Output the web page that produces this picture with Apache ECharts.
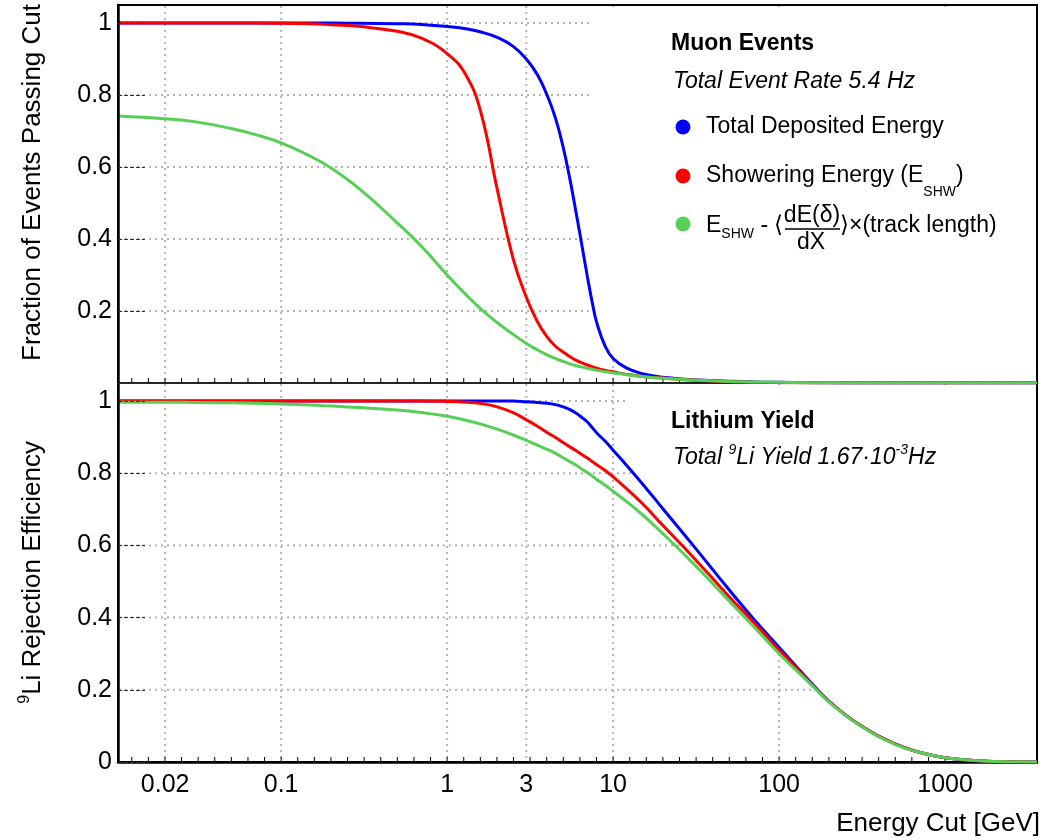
<!DOCTYPE html>
<html>
<head>
<meta charset="utf-8">
<script src="https://cdn.jsdelivr.net/npm/echarts@6/dist/echarts.min.js"></script>
<style>
html, body { margin: 0; padding: 0; background: #fff; }
#canvas_main { width: 1043px; height: 840px; }
</style>
</head>
<body>
<div id="canvas_main"></div>
<script>
// energy cut values [GeV], shared by all curves
var energies = [0.0104, 0.02, 0.03, 0.05, 0.07, 0.1, 0.15, 0.2, 0.3, 0.5, 0.7, 1, 1.3, 1.6, 2, 2.5, 3, 3.5, 4, 4.5,
	5, 5.5, 6, 6.5, 7, 7.5, 8, 9, 10, 12, 15, 20, 30, 50, 70, 100, 150, 200, 300, 500, 700, 1000, 1500, 2000, 3580];

// top pad: fraction of muon events passing the cut
var muonTotal = [1, 1, 1, 1, 1, 1, 1, 1, 0.999, 0.998, 0.996, 0.99, 0.984, 0.975, 0.96, 0.935, 0.9, 0.856, 0.8, 0.735,
	0.655, 0.565, 0.47, 0.38, 0.295, 0.222, 0.165, 0.1, 0.068, 0.042, 0.026, 0.016, 0.009, 0.005, 0.003, 0.002, 0.001, 0.0005, 0, 0, 0, 0, 0, 0, 0];
var muonShower = [1, 1, 1, 1, 1, 0.999, 0.998, 0.995, 0.99, 0.977, 0.958, 0.915, 0.855, 0.75, 0.54, 0.345, 0.238, 0.17, 0.128, 0.102,
	0.086, 0.073, 0.063, 0.056, 0.05, 0.045, 0.041, 0.035, 0.031, 0.024, 0.018, 0.014, 0.008, 0.004, 0.002, 0.001, 0.0005, 0, 0, 0, 0, 0, 0, 0, 0];
var muonCorr = [0.742, 0.734, 0.726, 0.707, 0.69, 0.667, 0.63, 0.597, 0.537, 0.445, 0.38, 0.3, 0.245, 0.205, 0.168, 0.135, 0.11, 0.092, 0.078, 0.068,
	0.06, 0.053, 0.048, 0.044, 0.041, 0.038, 0.035, 0.031, 0.028, 0.023, 0.018, 0.013, 0.008, 0.004, 0.003, 0.002, 0.001, 0.0005, 0, 0, 0, 0, 0, 0, 0];

// bottom pad: 9Li rejection efficiency
var liTotal = [1, 1, 1, 1, 1, 1, 1, 1, 1, 1, 1, 1, 1, 1, 1, 1, 0.998, 0.996, 0.994, 0.99,
	0.984, 0.976, 0.966, 0.954, 0.942, 0.926, 0.911, 0.888, 0.864, 0.823, 0.771, 0.701, 0.603, 0.477, 0.397, 0.318, 0.228, 0.168, 0.105, 0.05, 0.027, 0.012, 0.004, 0.0015, 0];
var liShower = [1, 1, 1, 1, 1, 1, 1, 1, 1, 1, 1, 0.999, 0.997, 0.993, 0.984, 0.968, 0.948, 0.93, 0.913, 0.899,
	0.885, 0.873, 0.862, 0.851, 0.842, 0.832, 0.823, 0.807, 0.79, 0.758, 0.716, 0.655, 0.57, 0.458, 0.388, 0.31, 0.226, 0.168, 0.105, 0.05, 0.027, 0.012, 0.004, 0.0015, 0];
var liCorr = [0.997, 0.997, 0.996, 0.995, 0.994, 0.992, 0.989, 0.986, 0.982, 0.975, 0.968, 0.958, 0.947, 0.936, 0.922, 0.906, 0.891, 0.878, 0.866, 0.855,
	0.843, 0.832, 0.822, 0.811, 0.802, 0.792, 0.782, 0.766, 0.75, 0.722, 0.685, 0.632, 0.553, 0.446, 0.376, 0.3, 0.222, 0.166, 0.104, 0.049, 0.027, 0.012, 0.004, 0.0015, 0];

var xTickValues = [0.02, 0.1, 1, 3, 10, 100, 1000];
var xTickLabels = ['0.02', '0.1', '1', '3', '10', '100', '1000'];
var yGridValues = [0.2, 0.4, 0.6, 0.8, 1];
var xRange = [0.0104, 3580];
var yMax = 1.05;

var FONT = '"Liberation Sans", Arial, Helvetica, sans-serif';
var colBlue = '#0000ff', colRed = '#ff0000', colGreen = '#55d055';

function pairs(vals) {
	return energies.map(function (e, i) { return [e, vals[i]]; });
}

// dotted grid, minor ticks and (optionally) x labels for one pad
function decorItem(withLabels) {
	return function (params, api) {
		var cs = params.coordSys;
		var left = cs.x, right = cs.x + cs.width, top = cs.y, bottom = cs.y + cs.height;
		var dot = { stroke: '#b4b4b4', lineWidth: 2, lineDash: [2, 4] };
		var kids = [];
		xTickValues.forEach(function (v, i) {
			var px = api.coord([v, 0])[0];
			kids.push({ type: 'line', shape: { x1: px, y1: top + 1, x2: px, y2: bottom - 1 }, style: dot });
			if (withLabels) {
				kids.push({ type: 'text', x: px, y: bottom + 23, style: {
					text: xTickLabels[i], fill: '#000', fontSize: 25, fontFamily: FONT, align: 'center', verticalAlign: 'middle' } });
			}
		});
		yGridValues.forEach(function (v) {
			var py = api.coord([xRange[0], v])[1];
			kids.push({ type: 'line', shape: { x1: left + 1, y1: py, x2: right - 1, y2: py }, style: dot });
		});
		var k0 = Math.ceil(Math.log10(xRange[0]) * 10), k1 = Math.floor(Math.log10(xRange[1]) * 10);
		for (var k = k0; k <= k1; k++) {
			var tx = api.coord([Math.pow(10, k / 10), 0])[0];
			kids.push({ type: 'line', shape: { x1: tx, y1: bottom, x2: tx, y2: bottom - 5 }, style: { stroke: '#000', lineWidth: 1 } });
		}
		return { type: 'group', children: kids };
	};
}

// white area right of the blue curve (hides the grid there, as in the original)
function fillItem(vals, cut) {
	return function (params, api) {
		var cs = params.coordSys;
		var pts = [api.coord([cut, yMax])];
		energies.forEach(function (e, i) { if (e >= cut) pts.push(api.coord([e, vals[i]])); });
		pts.push(api.coord([xRange[1], 0]));
		pts.push(api.coord([xRange[1], yMax]));
		pts = pts.map(function (p) {
			return [Math.min(p[0], cs.x + cs.width - 2), Math.max(Math.min(p[1], cs.y + cs.height - 2), cs.y + 2)];
		});
		return { type: 'polygon', shape: { points: pts }, style: { fill: '#fff' } };
	};
}

function lineSeries(idx, vals, color) {
	return {
		type: 'line', xAxisIndex: idx, yAxisIndex: idx, data: pairs(vals),
		showSymbol: false, smooth: 0.45, z: 2,
		lineStyle: { color: color, width: 3 }, itemStyle: { color: color }
	};
}

function yAxisOpt(idx, hideZero) {
	return {
		type: 'value', gridIndex: idx, min: 0, max: yMax, interval: 0.2, z: 3,
		axisLine: { show: true, lineStyle: { color: '#000', width: 2.5 } },
		axisTick: { show: true, inside: true, length: 27, lineStyle: { color: '#333', type: 'dashed', width: 1 } },
		splitLine: { show: false },
		axisLabel: {
			color: '#000', fontSize: 25, fontFamily: FONT, margin: 6, showMaxLabel: false,
			formatter: function (v) {
				if (v > 1.001) return '';
				if (hideZero && v === 0) return '';
				return String(+v.toFixed(1));
			}
		}
	};
}

function xAxisOpt(idx, lineColor, lineWidth) {
	return {
		type: 'log', logBase: 10, gridIndex: idx, min: xRange[0], max: xRange[1],
		axisLine: { show: true, lineStyle: { color: lineColor, width: lineWidth } },
		axisTick: { show: false }, axisLabel: { show: false }, splitLine: { show: false }
	};
}

var myChart = echarts.init(document.getElementById('canvas_main'), null, { renderer: 'canvas' });

var txt = function (o) {
	return Object.assign({ fill: '#000', fontSize: 23, fontFamily: FONT, align: 'left', verticalAlign: 'middle' }, o);
};

var option = {
	animation: false,
	backgroundColor: '#fff',
	grid: [
		{ left: 118, right: 6, top: 5, height: 378, show: true, borderColor: '#000', borderWidth: 2 },
		{ left: 118, right: 6, top: 383, height: 379, show: true, borderColor: '#000', borderWidth: 2 }
	],
	xAxis: [xAxisOpt(0, '#333', 1.5), xAxisOpt(1, '#000', 2.5)],
	yAxis: [yAxisOpt(0, true), yAxisOpt(1, false)],
	series: [
		{ type: 'custom', xAxisIndex: 0, yAxisIndex: 0, data: [[1, 0]], z: 0.5, clip: false, silent: true, renderItem: decorItem(false) },
		{ type: 'custom', xAxisIndex: 1, yAxisIndex: 1, data: [[1, 0]], z: 0.5, clip: false, silent: true, renderItem: decorItem(true) },
		{ type: 'custom', xAxisIndex: 0, yAxisIndex: 0, data: [[1, 0]], z: 1, silent: true, renderItem: fillItem(muonTotal, 7.5) },
		{ type: 'custom', xAxisIndex: 1, yAxisIndex: 1, data: [[1, 0]], z: 1, silent: true, renderItem: fillItem(liTotal, 12) },
		lineSeries(0, muonTotal, colBlue),
		lineSeries(0, muonShower, colRed),
		lineSeries(0, muonCorr, colGreen),
		lineSeries(1, liTotal, colBlue),
		lineSeries(1, liShower, colRed),
		lineSeries(1, liCorr, colGreen)
	],
	graphic: [
		// axis titles
		{ type: 'text', z: 100, x: 33, y: 4, rotation: Math.PI / 2, style: txt({ text: 'Fraction of Events Passing Cut', fontSize: 26, align: 'right' }) },
		{ type: 'text', z: 100, x: 33, y: 441, rotation: Math.PI / 2, style: txt({
			text: '{s|9}{n|Li Rejection Efficiency}', align: 'right',
			rich: { n: { fontSize: 26, fontFamily: FONT, lineHeight: 32 }, s: { fontSize: 16, fontFamily: FONT, lineHeight: 16, verticalAlign: 'top' } } }) },
		{ type: 'text', z: 100, x: 1040, y: 824, style: txt({ text: 'Energy Cut [GeV]', fontSize: 26, align: 'right' }) },

		// top legend
		{ type: 'text', z: 100, x: 671, y: 44, style: txt({ text: 'Muon Events', fontWeight: 'bold' }) },
		{ type: 'text', z: 100, x: 673, y: 82, style: txt({ text: 'Total Event Rate 5.4 Hz', fontStyle: 'italic' }) },
		{ type: 'circle', z: 100, shape: { cx: 683, cy: 127, r: 7.5 }, style: { fill: colBlue } },
		{ type: 'circle', z: 100, shape: { cx: 683, cy: 176, r: 7.5 }, style: { fill: colRed } },
		{ type: 'circle', z: 100, shape: { cx: 683, cy: 224, r: 7.5 }, style: { fill: colGreen } },
		{ type: 'text', z: 100, x: 706, y: 127, style: txt({ text: 'Total Deposited Energy' }) },
		{ type: 'text', z: 100, x: 706, y: 176, style: txt({
			text: '{n|Showering Energy (E}{b|SHW}{n|)}',
			rich: { n: { fontSize: 23, fontFamily: FONT, lineHeight: 46 }, b: { fontSize: 14, fontFamily: FONT, lineHeight: 14, verticalAlign: 'bottom' } } }) },
		{ type: 'text', z: 100, x: 706, y: 226, style: txt({
			text: '{n|E}{b|SHW}{n| - \u27e8}',
			rich: { n: { fontSize: 23, fontFamily: FONT, lineHeight: 31 }, b: { fontSize: 14, fontFamily: FONT, lineHeight: 14, verticalAlign: 'bottom' } } }) },
		{ type: 'text', z: 100, x: 812, y: 216, style: txt({ text: 'dE(\u03b4)', align: 'center' }) },
		{ type: 'line', z: 100, shape: { x1: 785, y1: 229, x2: 840, y2: 229 }, style: { stroke: '#000', lineWidth: 1.5 } },
		{ type: 'text', z: 100, x: 811, y: 243, style: txt({ text: 'dX', align: 'center' }) },
		{ type: 'text', z: 100, x: 840, y: 226, style: txt({ text: '\u27e9\u00d7(track length)' }) },

		// bottom legend
		{ type: 'text', z: 100, x: 671, y: 422, style: txt({ text: 'Lithium Yield', fontWeight: 'bold' }) },
		{ type: 'text', z: 100, x: 673, y: 458, style: txt({
			text: '{n|Total }{s|9}{n|Li Yield 1.67\u00b710}{s|-3}{n|Hz}',
			rich: { n: { fontSize: 23, fontFamily: FONT, fontStyle: 'italic', lineHeight: 30 }, s: { fontSize: 14, fontFamily: FONT, fontStyle: 'italic', lineHeight: 14, verticalAlign: 'top' } } }) }
	]
};
myChart.setOption(option);
</script>
</body>
</html>
